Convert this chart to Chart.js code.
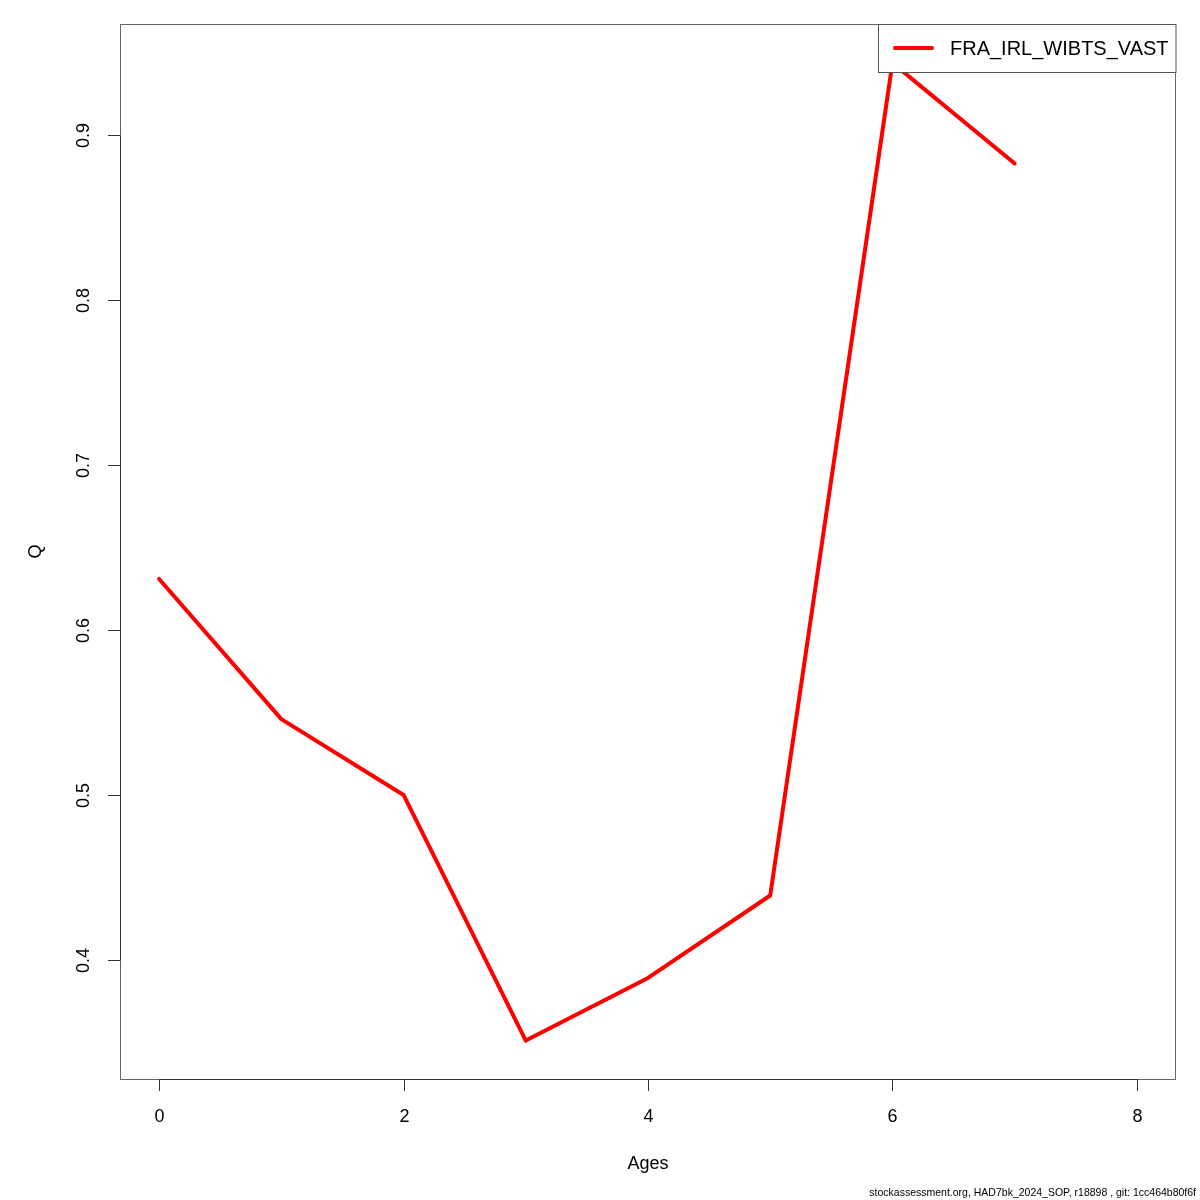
<!DOCTYPE html>
<html>
<head>
<meta charset="utf-8">
<script src="https://cdn.jsdelivr.net/npm/chart.js@4"></script>
<style>
  html, body { margin: 0; padding: 0; background: #fff; }
  #wrap { width: 1200px; height: 1200px; }
</style>
</head>
<body>
<div id="wrap"><canvas id="myChart" width="1200" height="1200"></canvas></div>
<script>
let ages = [0, 1, 2, 3, 4, 5, 6, 7]
let q = [0.631, 0.546, 0.500, 0.351, 0.389, 0.439, 0.944, 0.883]
let xTicks = [0, 2, 4, 6, 8]
let yTicks = [0.4, 0.5, 0.6, 0.7, 0.8, 0.9]
let seriesName = "FRA_IRL_WIBTS_VAST"
let footer = "stockassessment.org, HAD7bk_2024_SOP, r18898 , git: 1cc464b80f6f"

let font = "'Liberation Sans', Arial, sans-serif"

// R-style box, axes, labels, legend
let rPlot = {
    id: 'rPlot',
    afterDatasetsDraw(chart) {
        let c = chart.ctx
        let a = chart.chartArea
        let xs = chart.scales.x
        let ys = chart.scales.y
        c.save()

        // box
        c.strokeStyle = '#666'
        c.lineWidth = 1
        c.strokeRect(a.left + 0.5, a.top + 0.5, a.right - a.left - 1, a.bottom - a.top)

        c.strokeStyle = '#333'
        c.fillStyle = '#000'

        // x axis
        let x0 = Math.round(xs.getPixelForValue(xTicks[0])) + 0.5
        let x1 = Math.round(xs.getPixelForValue(xTicks[xTicks.length - 1])) + 0.5
        c.beginPath()
        c.moveTo(x0, a.bottom + 0.5)
        c.lineTo(x1, a.bottom + 0.5)
        c.stroke()
        c.font = "18px " + font
        c.textAlign = 'center'
        c.textBaseline = 'middle'
        xTicks.forEach(v => {
            let px = Math.round(xs.getPixelForValue(v)) + 0.5
            c.beginPath()
            c.moveTo(px, a.bottom)
            c.lineTo(px, a.bottom + 12)
            c.stroke()
            c.fillText(String(v), px, 1117)
        })

        // y axis
        let y0 = Math.round(ys.getPixelForValue(yTicks[0])) + 0.5
        let y1 = Math.round(ys.getPixelForValue(yTicks[yTicks.length - 1])) + 0.5
        c.beginPath()
        c.moveTo(a.left + 0.5, y0)
        c.lineTo(a.left + 0.5, y1)
        c.stroke()
        yTicks.forEach(v => {
            let py = Math.round(ys.getPixelForValue(v)) + 0.5
            c.beginPath()
            c.moveTo(a.left - 12, py)
            c.lineTo(a.left, py)
            c.stroke()
            c.save()
            c.translate(84, py)
            c.rotate(-Math.PI / 2)
            c.fillText(v.toFixed(1), 0, 0)
            c.restore()
        })

        // axis titles
        c.fillText("Ages", (a.left + a.right) / 2, 1164)
        c.save()
        c.translate(36, (a.top + a.bottom) / 2)
        c.rotate(-Math.PI / 2)
        c.fillText("Q", 0, 0)
        c.restore()

        // legend
        c.fillStyle = '#fff'
        c.fillRect(878, a.top, a.right - 878, 48)
        c.strokeStyle = '#555'
        c.strokeRect(878.5, a.top + 0.5, a.right - 878.5, 48)
        c.strokeStyle = 'rgb(255, 0, 0)'
        c.lineWidth = 4
        c.lineCap = 'round'
        c.beginPath()
        c.moveTo(895, a.top + 24)
        c.lineTo(932, a.top + 24)
        c.stroke()
        c.fillStyle = '#000'
        c.font = "20px " + font
        c.textAlign = 'left'
        c.fillText(seriesName, 950, a.top + 25)

        // footer
        c.font = "10.5px " + font
        c.textAlign = 'right'
        c.textBaseline = 'alphabetic'
        c.fillText(footer, 1196, 1196)

        c.restore()
    }
}

let ctx = document.getElementById('myChart').getContext('2d')

let chart = new Chart(ctx, {
    type: 'line',
    data: {
        labels: ages,
        datasets: [{
            label: seriesName,
            data: ages.map((a, i) => ({ x: a, y: q[i] })),
            borderColor: 'rgb(255, 0, 0)',
            backgroundColor: 'rgb(255, 0, 0)',
            borderWidth: 4,
            borderCapStyle: 'round',
            borderJoinStyle: 'round',
            pointRadius: 0,
            tension: 0,
            fill: false
        }]
    },
    options: {
        responsive: false,
        animation: false,
        devicePixelRatio: 1,
        layout: { padding: { left: 0, top: 24, right: 24, bottom: 0 } },
        plugins: {
            legend: { display: false },
            tooltip: { enabled: false }
        },
        scales: {
            x: {
                type: 'linear',
                min: -0.32,
                max: 8.32,
                grid: { display: false },
                border: { display: false },
                ticks: { display: false },
                afterFit(s) { s.height = 121 }
            },
            y: {
                min: 0.3277,
                max: 0.9676,
                grid: { display: false },
                border: { display: false },
                ticks: { display: false },
                afterFit(s) { s.width = 120 }
            }
        }
    },
    plugins: [rPlot]
})
</script>
</body>
</html>
